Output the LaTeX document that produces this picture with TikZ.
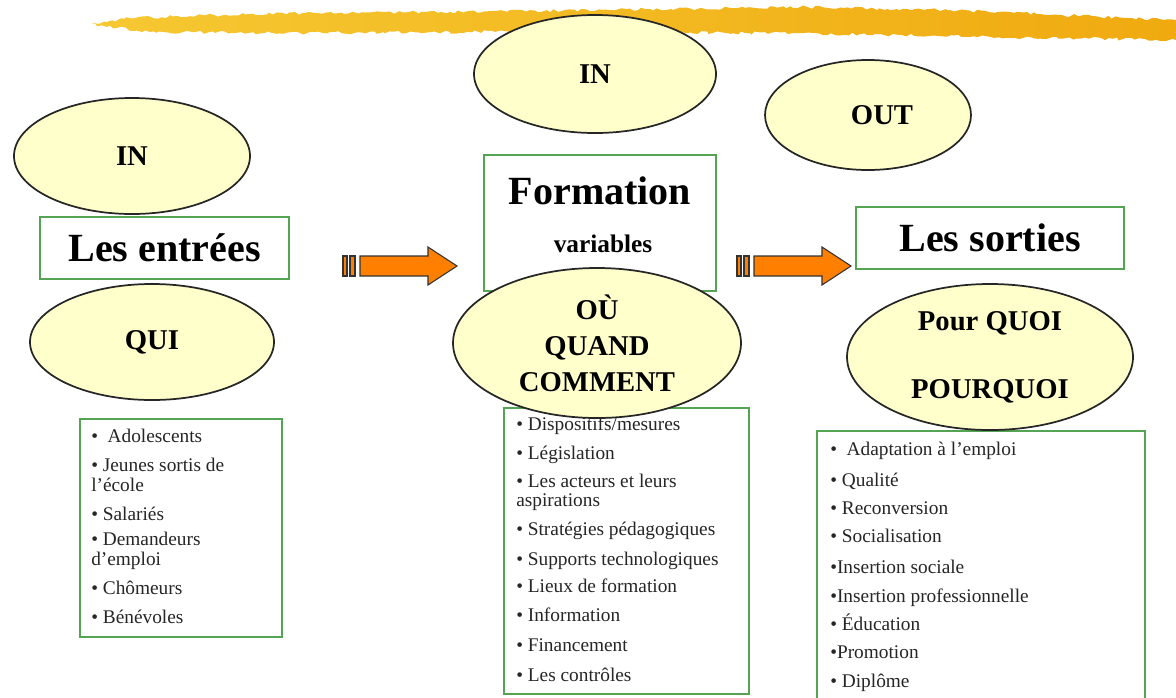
\documentclass[tikz,border=0pt]{standalone}
\usepackage{fontspec}
\setmainfont{Liberation Serif}
\usetikzlibrary{shapes.geometric,decorations.pathmorphing}

\definecolor{ovalfill}{RGB}{255,255,204}
\definecolor{boxgreen}{RGB}{84,164,84}
\definecolor{arroworange}{RGB}{255,128,0}
\definecolor{brushlight}{RGB}{246,200,50}
\definecolor{brushdark}{RGB}{240,170,16}

\tikzset{
  oval/.style={ellipse, draw=black!85, line width=1.3pt, fill=ovalfill, inner sep=0pt,
    align=center, font=\fontsize{21.5}{27}\selectfont\bfseries},
  frame/.style={draw=boxgreen, line width=2pt, fill=white, inner sep=0pt},
  title/.style={font=\fontsize{30}{36}\selectfont\bfseries},
  item/.style={anchor=west, inner sep=0pt, text height=8pt, text depth=2pt,
    text=black!85, font=\fontsize{14.5}{16}\selectfont},
  arrowbody/.style={fill=arroworange, draw=black!80, line width=0.8pt},
  blockarrow/.pic={
    \filldraw[arrowbody] (1,-10) rectangle (5,10);
    \filldraw[arrowbody] (8,-10) rectangle (13,10);
    \filldraw[arrowbody] (18,-10) -- (86,-10) -- (86,-19) -- (115,0)
      -- (86,19) -- (86,10) -- (18,10) -- cycle;
  }
}

\begin{document}
\begin{tikzpicture}[x=0.75pt, y=-0.75pt]
  \def\pxu{0.75pt}
  \useasboundingbox (0,0) rectangle (1176,697);
  \clip (0,0) rectangle (1176,697);

  % brush stroke on top
  \shade[left color=brushlight, right color=brushdark, decorate,
    decoration={random steps, segment length=3pt, amplitude=1.2pt}]
    (92,24) -- (130,18) -- (250,14) -- (450,12) -- (650,9) -- (800,7)
    -- (950,10) -- (1080,16) -- (1176,20) -- (1176,40) -- (1050,38)
    -- (900,35) -- (750,33) -- (600,31) -- (450,32) -- (300,33)
    -- (150,32) -- cycle;

  % boxes
  \node[frame, title, minimum width=249*\pxu, minimum height=62*\pxu] (entrees) at (164.5,248) {Les entrées};
  \node[frame, minimum width=232*\pxu, minimum height=136*\pxu] (formation) at (600,223) {};
  \node[title, inner sep=0pt] (formation-t) at (600,191) {Formation};
  \node[inner sep=0pt, font=\fontsize{19}{22}\selectfont\bfseries] (variables) at (603,244) {variables};
  \node[frame, title, minimum width=268*\pxu, minimum height=62*\pxu] (sorties) at (990,238) {Les sorties};

  \node[frame, minimum width=202*\pxu, minimum height=218*\pxu] (list-qui) at (181,528) {};
  \node[frame, minimum width=245*\pxu, minimum height=286*\pxu] (list-comment) at (626.5,551) {};
  \node[frame, minimum width=328*\pxu, minimum height=300*\pxu] (list-quoi) at (981,581) {};

  % lists
  \foreach \y/\t [count=\i] in {438/{•\ \ Adolescents}, 467/{• Jeunes sortis de}, 487/{l’école},
      516/{• Salariés}, 541/{• Demandeurs}, 561/{d’emploi}, 590/{• Chômeurs}, 619/{• Bénévoles}}
    \node[item] (qui-\i) at (91,\y) {\t};
  \foreach \y/\t [count=\i] in {426/{• Dispositifs/mesures}, 455/{• Législation},
      483/{• Les acteurs et leurs}, 502/{aspirations}, 531/{• Stratégies pédagogiques},
      561/{• Supports technologiques}, 588/{• Lieux de formation}, 617/{• Information},
      647/{• Financement}, 677/{• Les contrôles}}
    \node[item] (comment-\i) at (516,\y) {\t};
  \foreach \y/\t [count=\i] in {451/{•\ \ Adaptation à l’emploi}, 482/{• Qualité},
      510/{• Reconversion}, 538/{• Socialisation}, 569/{•Insertion sociale},
      598/{•Insertion professionnelle}, 626/{• Éducation}, 654/{•Promotion}, 683/{• Diplôme}}
    \node[item] (quoi-\i) at (830,\y) {\t};

  % ovals
  \node[oval, minimum width=236*\pxu, minimum height=116*\pxu] (in-left) at (132,156) {IN};
  \node[oval, minimum width=244*\pxu, minimum height=116*\pxu] (qui) at (152,342) {QUI};
  \node[oval, minimum width=242*\pxu, minimum height=118*\pxu] (in-mid) at (595,74) {IN};
  \node[oval, minimum width=288*\pxu, minimum height=150*\pxu] (comment) at (597,343)
    {OÙ\\QUAND\\COMMENT};
  \node[oval, minimum width=206*\pxu, minimum height=110*\pxu] (out) at (868,115) {};
  \node[inner sep=0pt, font=\fontsize{21.5}{27}\selectfont\bfseries] (out-t) at (882,115) {OUT};
  \node[oval, minimum width=286*\pxu, minimum height=146*\pxu] (quoi) at (990,357)
    {Pour QUOI\\[24pt]POURQUOI};

  % arrows
  \pic at (342,266) {blockarrow};
  \pic at (736,266) {blockarrow};
\end{tikzpicture}
\end{document}
